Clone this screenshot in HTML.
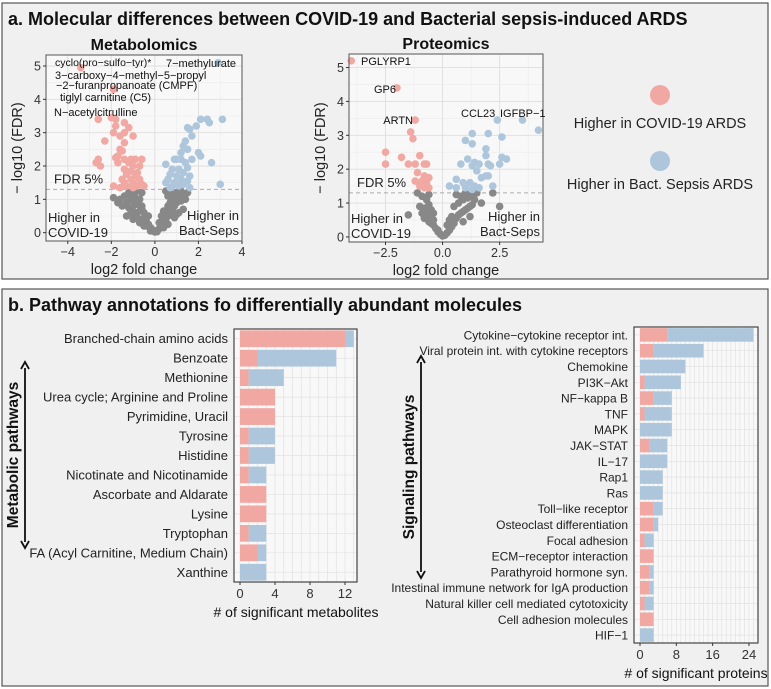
<!DOCTYPE html>
<html><head><meta charset="utf-8"><style>
body{margin:0;background:#fff;font-family:"Liberation Sans",sans-serif}
svg{display:block}
</style></head><body>
<svg id="fig" width="771" height="689" xmlns="http://www.w3.org/2000/svg" font-family="Liberation Sans, sans-serif">
<rect x="0" y="0" width="771" height="689" fill="#fff"/>
<rect x="2" y="3" width="766" height="276" fill="#f0f0f0" stroke="#555" stroke-width="1.2"/>
<rect x="2" y="289" width="766" height="397" fill="#f0f0f0" stroke="#555" stroke-width="1.2"/>
<text x="8" y="25" font-size="18" font-weight="bold" fill="#111">a. Molecular differences between COVID-19 and Bacterial sepsis-induced ARDS</text>
<text x="8" y="311" font-size="18" font-weight="bold" fill="#111">b. Pathway annotations fo differentially abundant molecules</text>
<g>
<circle cx="660" cy="95" r="10" fill="#f2a8a2"/>
<text x="660" y="128" font-size="14.5" text-anchor="middle" fill="#222">Higher in COVID-19 ARDS</text>
<circle cx="660" cy="161" r="10" fill="#aec6dc"/>
<text x="660" y="189" font-size="14.5" text-anchor="middle" fill="#222">Higher in Bact. Sepsis ARDS</text>
</g>
<g id="charts"></g>
</svg>
<script>
// ---- Metabolomics volcano data ----
const metPinkX=[-3.4,-1.9,-2.6,-2.0,-1.8,-1.4,-1.8,-1.2,-1.4,-1.9,-1.6,-1.0,-2.3,-1.4,-1.6,-1.5,-1.7,-1.8,-2.6,-2.7,-2.5,-1.4,-1.1,-0.9,-0.6,-1.7,-1.2,-1.0,-0.7,-1.4,-1.1,-0.8,-1.3,-0.9,-1.5,-1.1,-0.7,-1.4,-1.0,-0.6,-1.9,-1.3,-0.8,-0.5,-1.6,-1.0];
const metPinkY=[4.95,4.3,3.4,3.45,3.4,3.3,3.2,3.15,3.0,3.0,2.9,2.9,2.75,2.7,2.5,2.45,2.3,2.25,2.2,2.1,2.0,2.2,2.2,2.2,2.2,2.1,2.1,2.0,2.0,1.9,1.85,1.8,1.75,1.7,1.6,1.6,1.6,1.5,1.5,1.45,1.4,1.4,1.4,1.4,1.35,1.35];
const metBlueX=[2.9,2.1,2.4,3.1,2.5,1.9,1.6,1.5,1.7,1.4,1.3,1.5,2.0,2.1,1.2,1.7,0.9,1.0,1.2,1.4,2.6,0.5,1.5,0.8,1.1,1.3,0.7,1.6,1.0,0.6,1.2,1.5,0.9,0.5,3.0,1.3,0.8,1.1,1.6,0.7];
const metBlueY=[5.1,3.4,3.4,3.4,3.3,3.2,3.1,3.15,2.9,2.75,2.6,2.5,2.4,2.3,2.4,2.2,2.2,2.2,2.2,2.1,2.1,2.05,1.95,1.9,1.9,1.8,1.75,1.7,1.7,1.6,1.6,1.55,1.5,1.5,1.45,1.45,1.4,1.4,1.35,1.35];
const metGrayX=[-1.9,-1.6,-1.4,-1.2,-1.0,-0.8,-0.6,-1.7,-1.3,-1.1,-0.9,-0.7,-1.5,-1.2,-1.0,-0.8,-0.6,-1.1,-0.9,-0.7,-0.5,-0.8,-0.6,-0.4,-0.5,-0.3,-0.2,-0.1,0,0.1,0.2,0.3,0.4,0.5,0.6,0.5,0.7,0.8,0.6,0.9,0.7,1.0,1.2,0.8,1.1,1.4,0.6,0.9,1.3,0.7,1.0,1.5,1.2,0.5,-0.3,0.3,-1.3,1.1,-0.4,0.2,-1.0,-0.7,-0.5,0.4,0.6,0.9,1.3,-0.9,-0.2,0.1,-0.6,1.0,-1.2,0.8,-0.4,0.4];
const metGrayY=[1.05,1.0,1.1,1.2,1.2,1.25,1.2,0.9,0.9,1.0,1.05,1.0,0.8,0.75,0.8,0.85,0.8,0.6,0.6,0.65,0.6,0.45,0.4,0.45,0.3,0.25,0.15,0.08,0.02,0.06,0.12,0.2,0.3,0.4,0.5,0.6,0.6,0.7,0.8,0.8,0.9,0.9,0.95,1.0,1.05,1.0,1.1,1.1,1.15,1.2,1.2,1.2,1.25,1.25,0.5,0.5,0.5,0.6,0.2,0.3,0.4,0.3,0.2,0.15,0.25,0.45,0.7,0.95,0.05,0.03,0.7,0.55,1.15,1.15,0.35,0.65];
const metXTicks=[-4,-2,0,2,4];
const metYTicks=[0,1,2,3,4,5];
// ---- Proteomics volcano data ----
const proPinkX=[-4.0,-2.0,-1.2,-1.4,-1.3,-2.5,-1.8,-1.0,-2.5,-1.5,-1.2,-0.8,-0.7,-1.1,-0.8,-0.6,-1.2,-0.9,-0.7,-1.0,-0.8,-0.6];
const proPinkY=[5.2,4.4,3.45,3.1,2.9,2.5,2.35,2.4,2.15,2.15,2.15,2.15,2.15,1.9,1.8,1.75,1.65,1.65,1.6,1.5,1.45,1.45];
const proBlueX=[2.4,3.5,4.2,1.3,2.0,1.0,2.6,1.3,1.9,1.9,2.6,2.8,0.8,1.1,1.4,1.6,1.3,2.0,2.1,2.5,1.5,1.9,1.7,2.0,0.6,0.9,1.2,1.4,1.6,2.2,0.6,0.3,1.0,1.3];
const proBlueY=[3.45,3.45,3.15,3.05,3.05,2.85,2.95,2.75,2.6,2.4,2.35,2.3,2.15,2.3,2.2,2.15,2.1,2.15,2.1,2.15,1.95,1.8,1.75,1.8,1.7,1.6,1.6,1.5,1.45,1.5,1.45,1.5,1.45,1.4];
const proGrayX=[-1.5,-1.1,-0.9,-0.7,-0.6,-1.0,-0.8,-0.6,-0.5,-0.9,-0.7,-0.5,-0.4,-0.6,-0.4,-0.3,-0.2,-0.1,0,0.1,0.2,0.3,0.4,0.5,0.6,0.7,0.8,0.9,1.0,1.1,1.2,1.3,0.5,0.7,0.9,1.1,1.3,1.5,0.6,0.8,1.0,1.4,2.5,2.2,1.7,0.4,0.2,-0.2,-0.5,-0.8,-0.7,1.2,0.9,-0.4,0.3];
const proGrayY=[0.65,1.3,1.2,1.1,1.25,0.9,0.85,0.95,0.8,0.7,0.65,0.6,0.5,0.45,0.35,0.25,0.15,0.08,0.03,0.05,0.12,0.2,0.3,0.4,0.55,0.65,0.7,0.75,0.8,0.85,0.9,0.95,0.9,1.0,1.1,1.15,1.25,1.3,1.25,1.2,1.3,1.1,0.9,1.3,1.0,0.6,0.35,0.2,0.4,0.55,0.75,0.6,0.45,0.7,0.5];
const proXTicks=[-2.5,0,2.5];
const proYTicks=[0,1,2,3,4,5];
// ---- Metabolic pathways bar data ----
const metCats=["Branched-chain amino acids","Benzoate","Methionine","Urea cycle; Arginine and Proline","Pyrimidine, Uracil","Tyrosine","Histidine","Nicotinate and Nicotinamide","Ascorbate and Aldarate","Lysine","Tryptophan","FA (Acyl Carnitine, Medium Chain)","Xanthine"];
const metCovid=[12,2,1,4,4,1,1,1,3,3,1,2,0];
const metBact=[1,9,4,0,0,3,3,2,0,0,2,1,3];
const metBarTicks=[0,4,8,12];
// ---- Signaling pathways bar data ----
const sigCats=["Cytokine\u2212cytokine receptor int.","Viral protein int. with cytokine receptors","Chemokine","PI3K\u2212Akt","NF\u2212kappa B","TNF","MAPK","JAK\u2212STAT","IL\u221217","Rap1","Ras","Toll\u2212like receptor","Osteoclast differentiation","Focal adhesion","ECM\u2212receptor interaction","Parathyroid hormone syn.","Intestinal immune network for IgA production","Natural killer cell mediated cytotoxicity","Cell adhesion molecules","HIF\u22121"];
const sigCovid=[6,3,0,1,3,1,0,2,0,0,0,3,3,1,3,2,2,1,3,0];
const sigBact=[19,11,10,8,4,6,7,4,6,5,5,2,1,2,0,1,1,2,0,3];
const sigBarTicks=[0,8,16,24];

const NS="http://www.w3.org/2000/svg";
const root=document.getElementById('charts');
function mk(tag,attrs,parent,txt){const e=document.createElementNS(NS,tag);for(const k in attrs)e.setAttribute(k,attrs[k]);if(txt!==undefined)e.textContent=txt;(parent||root).appendChild(e);return e;}
const PINK="#f2a8a2",BLUE="#aec6dc",GRAY="#888888";

function volcano(o){
  const g=mk('g',{});
  
  
  const sx=v=>o.x0+(v-o.xmin)*(o.x1-o.x0)/(o.xmax-o.xmin);
  const sy=v=>o.y1-(v-o.ymin)*(o.y1-o.y0)/(o.ymax-o.ymin);
  const bg=mk('rect',{x:o.x0,y:o.y0,width:o.x1-o.x0,height:o.y1-o.y0,fill:'#f8f8f8'},g);
  
  
  o.minorX.forEach(v=>mk('line',{x1:sx(v),x2:sx(v),y1:o.y0,y2:o.y1,stroke:'#ececec','stroke-width':0.6},g));
  o.xt.forEach(v=>mk('line',{x1:sx(v),x2:sx(v),y1:o.y0,y2:o.y1,stroke:'#dedede','stroke-width':0.9},g));
  o.yt.forEach(v=>{mk('line',{x1:o.x0,x2:o.x1,y1:sy(v),y2:sy(v),stroke:'#dedede','stroke-width':0.9},g);mk('line',{x1:o.x0,x2:o.x1,y1:sy(v+0.5),y2:sy(v+0.5),stroke:'#ececec','stroke-width':0.6},g);});
  const dash=mk('line',{x1:o.x0,x2:o.x1,y1:sy(1.3),y2:sy(1.3),stroke:'#aaa','stroke-dasharray':'4,3','stroke-width':1},g);
  
  
  const sets=[[o.gx,o.gy,GRAY,'point-not-significant'],[o.px,o.py,PINK,'point-higher-covid'],[o.bx,o.by,BLUE,'point-higher-bact']];
  sets.forEach(s=>{s[0].forEach((xv,i)=>{const c=mk('circle',{cx:sx(xv),cy:sy(s[1][i]),r:3.8,fill:s[2]},g);
    
    });});
  const fr=mk('rect',{x:o.x0,y:o.y0,width:o.x1-o.x0,height:o.y1-o.y0,fill:'none',stroke:'#555','stroke-width':1},g);
  
  
  o.xt.forEach(v=>{mk('line',{x1:sx(v),x2:sx(v),y1:o.y1,y2:o.y1+3,stroke:'#333'},g);
    const t=mk('text',{x:sx(v),y:o.y1+15,'font-size':12.5,'text-anchor':'middle',fill:'#333'},g,(v<0?'\u2212':'')+(o.dec?Math.abs(v).toFixed(1):Math.abs(v)));
    
    });
  o.yt.forEach(v=>{mk('line',{x1:o.x0-3,x2:o.x0,y1:sy(v),y2:sy(v),stroke:'#333'},g);
    const t=mk('text',{x:o.x0-5,y:sy(v)+4.5,'font-size':12.5,'text-anchor':'end',fill:'#333'},g,String(v));
    
    });
  const xt=mk('text',{x:(o.x0+o.x1)/2,y:o.y1+33,'font-size':14.5,'text-anchor':'middle',fill:'#222'},g,'log2 fold change');
  
  
  const yt=mk('text',{x:0,y:0,'font-size':14.5,'text-anchor':'middle',fill:'#222',transform:`translate(${o.x0-24},${(o.y0+o.y1)/2}) rotate(-90)`},g,'\u2212 log10 (FDR)');
  
  
  const ti=mk('text',{x:(o.x0+o.x1)/2,y:o.y0-5,'font-size':16,'font-weight':'bold','text-anchor':'middle',fill:'#111'},g,o.title);
  
  
  const f=mk('text',{x:o.x0+8,y:sy(1.3)-6,'font-size':13,fill:'#222'},g,'FDR 5%');
  
  
  [['Higher in',o.y1-19],['COVID-19',o.y1-4]].forEach(a=>{const t=mk('text',{x:o.x0+2,y:a[1],'font-size':13,fill:'#222'},g,a[0]);
    
    });
  [['Higher in',o.y1-21],['Bact-Seps',o.y1-6]].forEach(a=>{const t=mk('text',{x:o.x1-3,y:a[1],'font-size':13,'text-anchor':'end',fill:'#222'},g,a[0]);
    
    });
  o.labels.forEach(l=>{const t=mk('text',{x:l[1],y:l[2],'font-size':l[4]||11.5,'text-anchor':l[3]||'start',fill:'#111'},g,l[0]);
    
    });
}
volcano({name:'metabolomics-volcano',title:'Metabolomics',x0:46,x1:242,y0:55,y1:241,xmin:-5,xmax:4,ymin:-0.25,ymax:5.33,
  xt:metXTicks,yt:metYTicks,minorX:[-5,-3,-1,1,3],dec:false,
  px:metPinkX,py:metPinkY,bx:metBlueX,by:metBlueY,gx:metGrayX,gy:metGrayY,
  labels:[['cyclo(pro\u2212sulfo\u2212tyr)*',55,66,'start',10.5],['7\u2212methylurate',166,67,'start',11],['3\u2212carboxy\u22124\u2212methyl\u22125\u2212propyl',55,79,'start',11],['\u22122\u2212furanpropanoate (CMPF)',56,89,'start',11],['tiglyl carnitine (C5)',60,101,'start',11],['N\u2212acetylcitrulline',54,116,'start',11]]});
volcano({name:'proteomics-volcano',title:'Proteomics',x0:349,x1:543,y0:54,y1:242,xmin:-4.1,xmax:4.4,ymin:-0.15,ymax:5.4,
  xt:proXTicks,yt:proYTicks,minorX:[-3.75,-1.25,1.25,3.75],dec:true,
  px:proPinkX,py:proPinkY,bx:proBlueX,by:proBlueY,gx:proGrayX,gy:proGrayY,
  labels:[['PGLYRP1',361,65,'start',11],['GP6',396,93,'end',11],['ARTN',413,124,'end',11],['CCL23',461,117,'start',11],['IGFBP\u22121',500,117,'start',11]]});

function bars(o){
  const g=mk('g',{});
  
  
  const n=o.cats.length;
  const sx=v=>o.zero+v*o.ppu;
  const step=(o.y1-o.y0)/n;
  const cy=i=>o.y0+step*(i+0.5);
  const bg=mk('rect',{x:o.x0,y:o.y0,width:o.x1-o.x0,height:o.y1-o.y0,fill:'#f8f8f8'},g);
  
  
  for(let v=0;sx(v)<o.x1;v+=o.minor)mk('line',{x1:sx(v),x2:sx(v),y1:o.y0,y2:o.y1,stroke:'#e2e2e2','stroke-width':0.7},g);
  o.cats.forEach((c,i)=>{mk('line',{x1:o.x0,x2:o.x1,y1:cy(i),y2:cy(i),stroke:'#e2e2e2','stroke-width':0.7},g);
    const h=step*0.86;
    const r1=mk('rect',{x:sx(0),y:cy(i)-h/2,width:o.a[i]*o.ppu,height:h,fill:PINK},g);
    
    
    const r2=mk('rect',{x:sx(o.a[i]),y:cy(i)-h/2,width:o.b[i]*o.ppu,height:h,fill:BLUE},g);
    
    
    const t=mk('text',{x:o.x0-6,y:cy(i)+4.5,'font-size':o.fs,'text-anchor':'end',fill:'#222'},g,c);
    
    });
  const fr=mk('rect',{x:o.x0,y:o.y0,width:o.x1-o.x0,height:o.y1-o.y0,fill:'none',stroke:'#333','stroke-width':1.1},g);
  
  
  o.ticks.forEach(v=>{mk('line',{x1:sx(v),x2:sx(v),y1:o.y1,y2:o.y1+3,stroke:'#333'},g);
    const t=mk('text',{x:sx(v),y:o.y1+16,'font-size':13,'text-anchor':'middle',fill:'#333'},g,String(v));
    
    });
  const xt=mk('text',{x:o.tx,y:o.y1+35,'font-size':14,'text-anchor':'middle',fill:'#111'},g,o.xtitle);
  
  
  const ax=o.ax;
  const ar=mk('path',{d:`M${ax} ${o.a0+6} L${ax} ${o.a1-6} M${ax-4} ${o.a0+7} L${ax} ${o.a0} L${ax+4} ${o.a0+7} M${ax-4} ${o.a1-7} L${ax} ${o.a1} L${ax+4} ${o.a1-7}`,stroke:'#111','stroke-width':1.8,fill:'none'},g);
  
  
  const gt=mk('text',{x:0,y:0,'font-size':15.5,'font-weight':'bold','text-anchor':'middle',fill:'#111',transform:`translate(${ax-7},${(o.a0+o.a1)/2}) rotate(-90)`},g,o.group);
  
  
}
bars({name:'metabolic-pathways-chart',cats:metCats,a:metCovid,b:metBact,x0:234,x1:357,y0:329,y1:582,zero:240,ppu:8.75,minor:1,fs:13,
  ticks:metBarTicks,xtitle:'# of significant metabolites',tx:296,ax:25,a0:362,a1:548,group:'Metabolic pathways'});
bars({name:'signaling-pathways-chart',cats:sigCats,a:sigCovid,b:sigBact,x0:634,x1:758,y0:327,y1:643,zero:640,ppu:4.54,minor:1,fs:12,
  ticks:sigBarTicks,xtitle:'# of significant proteins',tx:696,ax:421,a0:356,a1:578,group:'Signaling pathways'});
</script>
</body></html>
